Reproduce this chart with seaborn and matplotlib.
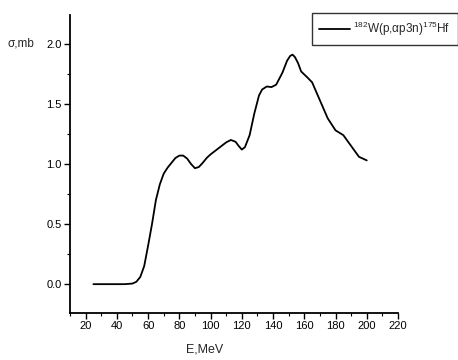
import matplotlib
matplotlib.use("Agg")
import matplotlib.pyplot as plt
from matplotlib.ticker import MultipleLocator
import seaborn as sns
import pandas as pd

# Excitation function 182W(p,αp3n)175Hf
energy = [25, 30, 35, 40, 45, 50, 52.5, 55, 57.5, 60, 62.5, 65, 67.5, 70, 72.5, 75, 77.5,
          80, 82.5, 85, 87.5, 90, 92.5, 95, 97.5, 100, 105, 110, 113, 116, 118, 120, 122,
          125, 128, 131, 133, 136, 139, 142, 146, 149, 151, 152.5, 154, 156, 158, 162,
          165, 170, 175, 180, 185, 190, 195, 200]
sigma = [0.0, 0.0, 0.0, 0.0, 0.0, 0.005, 0.02, 0.06, 0.15, 0.32, 0.50, 0.70, 0.83, 0.92,
         0.97, 1.01, 1.05, 1.07, 1.07, 1.045, 1.00, 0.965, 0.975, 1.01, 1.05, 1.08, 1.13,
         1.18, 1.20, 1.185, 1.15, 1.12, 1.14, 1.24, 1.42, 1.57, 1.62, 1.645, 1.64, 1.66,
         1.76, 1.86, 1.90, 1.91, 1.89, 1.84, 1.77, 1.72, 1.68, 1.53, 1.38, 1.28, 1.24,
         1.15, 1.06, 1.03]

x_ticks = [20, 40, 60, 80, 100, 120, 140, 160, 180, 200, 220]
y_ticks = [0.0, 0.5, 1.0, 1.5, 2.0]
series_label = r"$^{182}$W(p,$\alpha$p3n)$^{175}$Hf"

sns.set_theme(style="ticks")
plt.rcParams["font.family"] = ["Liberation Sans", "DejaVu Sans"]
plt.rcParams["mathtext.fontset"] = "custom"
plt.rcParams["mathtext.rm"] = "Liberation Sans"
plt.rcParams["mathtext.it"] = "Liberation Sans"

df = pd.DataFrame({"E": energy, "sigma": sigma})

W, H = 458, 360
fig = plt.figure(figsize=(W / 100, H / 100), dpi=100)
ax = fig.add_axes([70 / W, 1 - 313 / H, (398 - 70) / W, (313 - 15) / H])

sns.lineplot(data=df, x="E", y="sigma", ax=ax, color="black", linewidth=1.3,
             label=series_label, legend=False)

ax.set_xlim(10, 220)
ax.set_ylim(-0.24, 2.24)
ax.set_xticks(x_ticks)
ax.set_xticklabels([str(t) for t in x_ticks])
ax.set_yticks(y_ticks)
ax.set_yticklabels([f"{t:.1f}" for t in y_ticks])
ax.xaxis.set_minor_locator(MultipleLocator(10))
ax.yaxis.set_minor_locator(MultipleLocator(0.25))
ax.tick_params(which="major", direction="out", length=4, width=1.0,
               labelsize=8, colors="black", pad=2)
ax.tick_params(which="minor", direction="out", length=2, width=0.8, colors="black")
ax.set_xlabel("")
ax.set_ylabel("")

for side in ("top", "right"):
    ax.spines[side].set_visible(False)
for side in ("left", "bottom"):
    ax.spines[side].set_linewidth(1.3)
    ax.spines[side].set_color("black")

fig.text(8 / W, 1 - 44 / H, "σ,mb", ha="left", va="center", fontsize=8.5)
fig.text(205 / W, 1 - 350 / H, "E,MeV", ha="center", va="center", fontsize=9)

handles, labels = ax.get_legend_handles_labels()
leg = fig.legend(handles, labels, loc="upper left",
                 bbox_to_anchor=(312 / W, 1 - 13 / H), frameon=True,
                 fancybox=False, edgecolor="black", fontsize=8.5,
                 handlelength=2.6, borderpad=0.6, handletextpad=0.3,
                 borderaxespad=0)
leg.get_frame().set_linewidth(1.0)

fig.savefig("out.png", dpi=100, facecolor="white")
